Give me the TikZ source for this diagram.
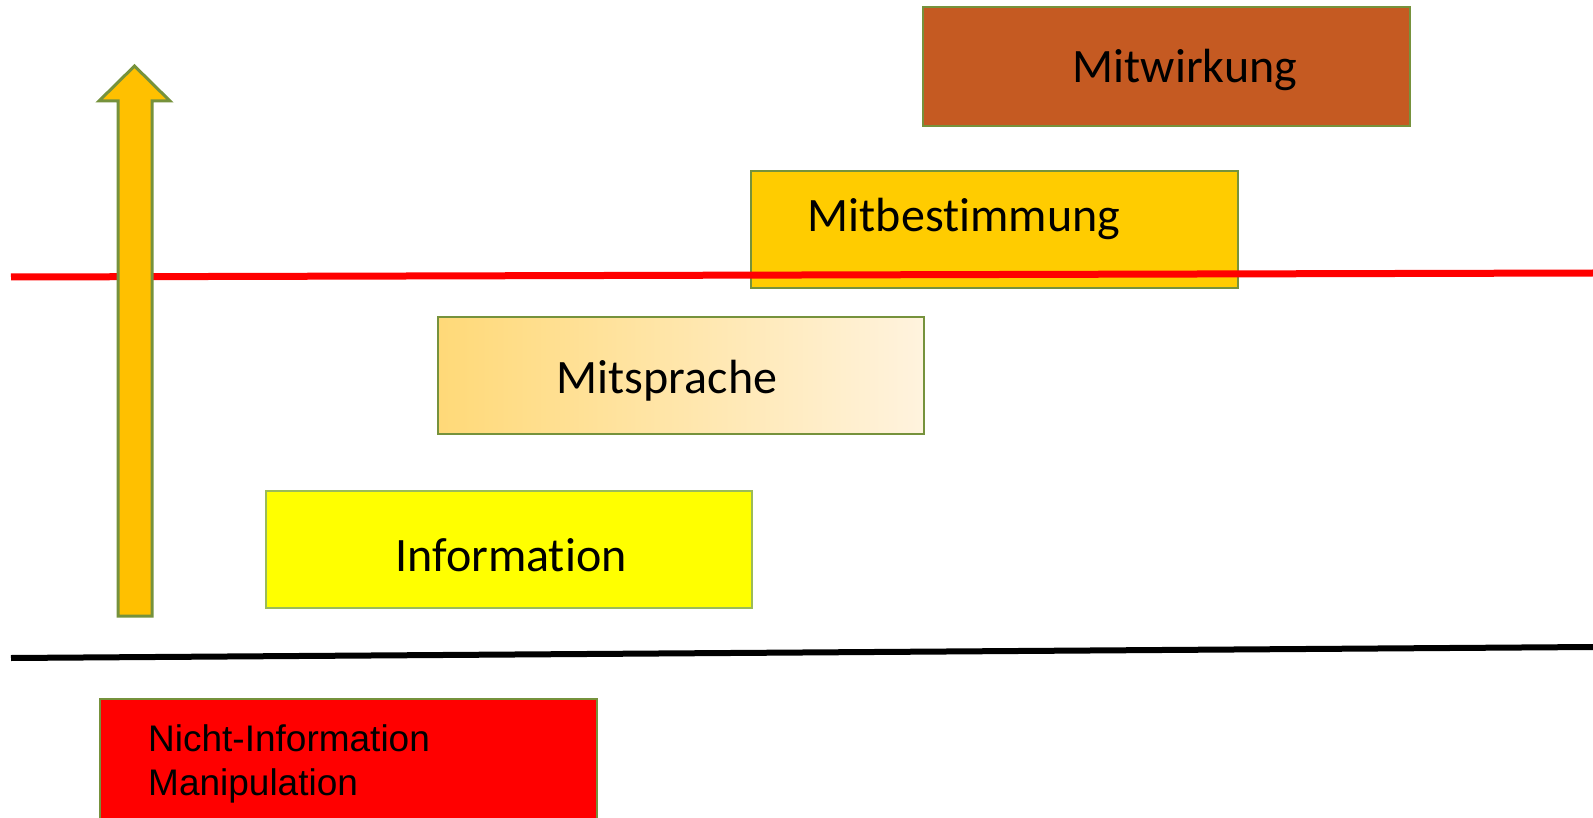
\documentclass[tikz,border=0pt]{standalone}
\usepackage{fontspec}
\setmainfont{Carlito}[Ligatures=NoCommon]
\newfontfamily\arialfont{Liberation Sans}
\definecolor{bordgreen}{RGB}{118,146,60}
\definecolor{lightgreen}{RGB}{155,187,89}
\definecolor{wirkfill}{RGB}{197,90,34}
\definecolor{bestfill}{RGB}{255,204,0}
\definecolor{infofill}{RGB}{255,255,0}
\definecolor{spraL}{RGB}{255,217,120}
\definecolor{spraR}{RGB}{255,243,222}
\definecolor{arrowfill}{RGB}{255,192,0}
\tikzset{
  levelbox/.style={draw=bordgreen, line width=2.5pt, rectangle, inner sep=0pt},
  leveltext/.style={anchor=base, inner sep=0pt, font=\fontsize{48}{58}\selectfont},
}
\begin{document}
\begin{tikzpicture}[x=1pt,y=-1pt]
\clip (0,0) rectangle (1593,818);
\fill[white] (0,0) rectangle (1593,818);
% boxes
\node[levelbox, fill=wirkfill, minimum width=487pt, minimum height=119pt] (wirk) at (1166.5,66.5) {};
\node[leveltext] (wirkT) at (1185,83) {Mitwirkung};
\node[levelbox, fill=bestfill, minimum width=487pt, minimum height=117pt] (best) at (994.5,229.5) {};
\node[leveltext] (bestT) at (964,232) {Mitbestimmung};
\node[levelbox, left color=spraL, right color=spraR, minimum width=486pt, minimum height=117pt] (spra) at (681,375.5) {};
\node[leveltext] (spraT) at (667,393) {Mitsprache};
\node[levelbox, draw=lightgreen, fill=infofill, minimum width=486pt, minimum height=117pt] (info) at (509,549.5) {};
\node[leveltext] (infoT) at (511,571) {Information};
\node[levelbox, fill=red, minimum width=497pt, minimum height=130pt] (nicht) at (348.5,764) {};
\node[anchor=base west, inner sep=0pt, align=left, font=\arialfont\fontsize{37}{44}\selectfont] (nichtT) at (148,795) {Nicht-Information\\Manipulation};
% lines
\coordinate (redL) at (11,277);
\coordinate (redR) at (1593,273);
\draw[red, line width=7pt] (redL) -- (redR);
\coordinate (blkL) at (11,658);
\coordinate (blkR) at (1593,647);
\draw[black, line width=6pt] (blkL) -- (blkR);
% arrow
\draw[bordgreen, line width=3pt, fill=arrowfill, line join=miter]
  (118,616) -- (118,101) -- (99,101) -- (134.5,66) -- (170,101) -- (152,101) -- (152,616) -- cycle;
\end{tikzpicture}
\end{document}
